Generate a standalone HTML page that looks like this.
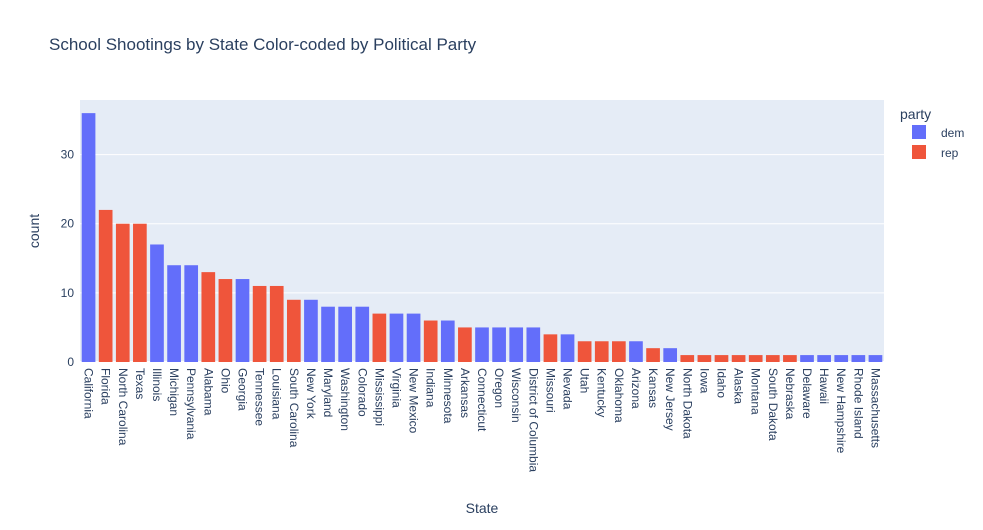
<!DOCTYPE html>
<html><head><meta charset="utf-8"><style>
body{margin:0;background:#fff;font-family:"Liberation Sans",Arial,sans-serif;}
svg text{font-family:"Liberation Sans",Arial,sans-serif;fill:#2a3f5f;}
</style></head><body>
<svg id="chart" width="983" height="525">
<rect x="0" y="0" width="983" height="525" fill="#fff"/>
<text x="49" y="50" font-size="17">School Shootings by State Color-coded by Political Party</text>
<rect x="80" y="100" width="804" height="262" fill="#E5ECF6"/>
<g id="grid"></g><g id="bars"></g><g id="xlabels"></g><g id="ylabels"></g>
<text x="482" y="513" font-size="14" text-anchor="middle">State</text>
<text transform="translate(39,231) rotate(-90)" font-size="14" text-anchor="middle">count</text>
<g>
<text x="900" y="119" font-size="14">party</text>
<g><rect x="912" y="125" width="14" height="14" fill="#636efa"/><text x="941" y="137" font-size="12">dem</text></g>
<g><rect x="912" y="145" width="14" height="14" fill="#EF553B"/><text x="941" y="157" font-size="12">rep</text></g>
</g>
</svg>
<script>
const states=["California","Florida","North Carolina","Texas","Illinois","Michigan","Pennsylvania","Alabama","Ohio","Georgia","Tennessee","Louisiana","South Carolina","New York","Maryland","Washington","Colorado","Mississippi","Virginia","New Mexico","Indiana","Minnesota","Arkansas","Connecticut","Oregon","Wisconsin","District of Columbia","Missouri","Nevada","Utah","Kentucky","Oklahoma","Arizona","Kansas","New Jersey","North Dakota","Iowa","Idaho","Alaska","Montana","South Dakota","Nebraska","Delaware","Hawaii","New Hampshire","Rhode Island","Massachusetts"];
const counts=[36,22,20,20,17,14,14,13,12,12,11,11,9,9,8,8,8,7,7,7,6,6,5,5,5,5,5,4,4,3,3,3,3,2,2,1,1,1,1,1,1,1,1,1,1,1,1];
const parties=["dem","rep","rep","rep","dem","dem","dem","rep","rep","dem","rep","rep","rep","dem","dem","dem","dem","rep","dem","dem","rep","dem","rep","dem","dem","dem","dem","rep","dem","rep","rep","rep","dem","rep","dem","rep","rep","rep","rep","rep","rep","rep","dem","dem","dem","dem","dem"];
const yTicks=[0,10,20,30];
const NS="http://www.w3.org/2000/svg";
const X0=80,W=804,Y0=362,YTOP=100,YMAX=37.9;
const band=W/states.length;
const y=v=>Y0-(v/YMAX)*(Y0-YTOP);
const xc=i=>X0+band*(i+0.5);
const colors={dem:"#636efa",rep:"#EF553B"};
const g=document.getElementById("grid"),b=document.getElementById("bars"),xl=document.getElementById("xlabels"),yl=document.getElementById("ylabels");
yTicks.forEach(t=>{
 const l=document.createElementNS(NS,"line");
 l.setAttribute("x1",X0);l.setAttribute("x2",X0+W);l.setAttribute("y1",y(t));l.setAttribute("y2",y(t));
 l.setAttribute("stroke","#fff");l.setAttribute("stroke-width",t===0?2:1);
 
 
 g.appendChild(l);
 const tx=document.createElementNS(NS,"text");
 tx.setAttribute("x",X0-6);tx.setAttribute("y",y(t)+4);tx.setAttribute("text-anchor","end");tx.setAttribute("font-size","12");
 tx.textContent=t;
 
 
 yl.appendChild(tx);
});
states.forEach((s,i)=>{
 const bw=band*0.8;
 const r=document.createElementNS(NS,"rect");
 r.setAttribute("x",xc(i)-bw/2);r.setAttribute("width",bw);
 r.setAttribute("y",y(counts[i]));r.setAttribute("height",Y0-y(counts[i]));
 r.setAttribute("fill",colors[parties[i]]);
 
 
 b.appendChild(r);
 const t=document.createElementNS(NS,"text");
 t.setAttribute("transform",`translate(${xc(i)-4},368) rotate(90)`);
 t.setAttribute("font-size","12");
 t.textContent=s;
 
 
 xl.appendChild(t);
});
</script>
</body></html>
